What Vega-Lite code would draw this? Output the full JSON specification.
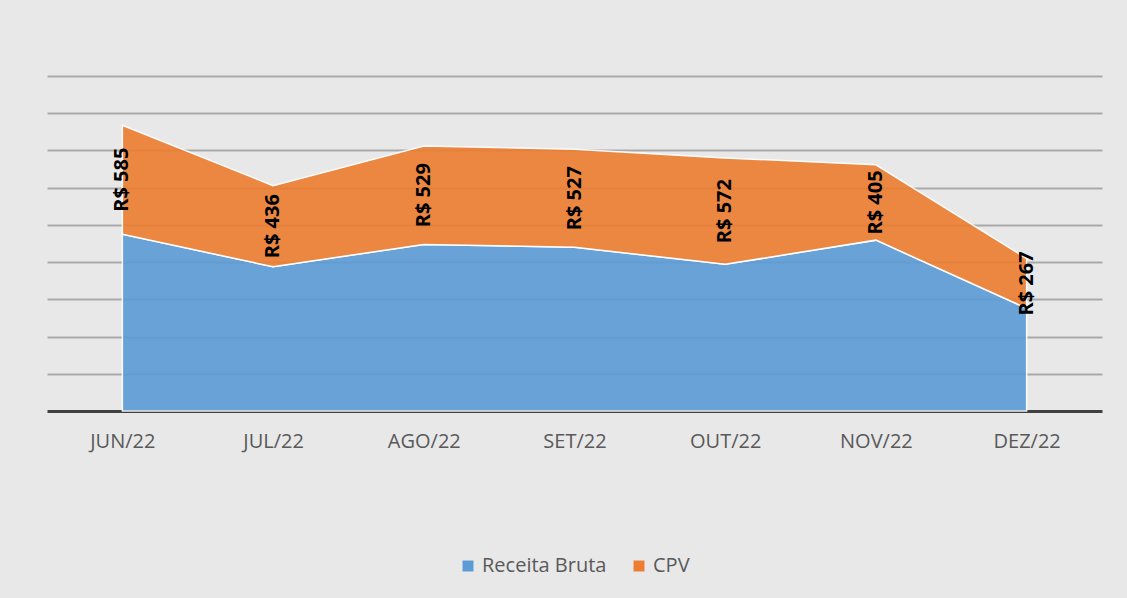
{
  "$schema": "https://vega.github.io/schema/vega-lite/v6.json",
  "autosize": "none",
  "width": 1055,
  "height": 335,
  "padding": {"left": 47, "top": 76, "right": 25, "bottom": 187},
  "background": "#e8e8e8",
  "config": {
    "view": {"stroke": null},
    "font": "Open Sans"
  },
  "data": {
    "values": [
      {"mes": "JUN/22", "Receita Bruta": 950, "CPV": 585},
      {"mes": "JUL/22", "Receita Bruta": 775, "CPV": 436},
      {"mes": "AGO/22", "Receita Bruta": 895, "CPV": 529},
      {"mes": "SET/22", "Receita Bruta": 880, "CPV": 527},
      {"mes": "OUT/22", "Receita Bruta": 788, "CPV": 572},
      {"mes": "NOV/22", "Receita Bruta": 918, "CPV": 405},
      {"mes": "DEZ/22", "Receita Bruta": 552, "CPV": 267}
    ]
  },
  "layer": [
    {
      "transform": [{"fold": ["Receita Bruta", "CPV"], "as": ["serie", "valor"]}],
      "mark": {"type": "area", "opacity": 0.9, "stroke": "#ffffff", "strokeWidth": 1.5},
      "encoding": {
        "x": {
          "field": "mes", "type": "ordinal", "sort": null,
          "scale": {"type": "point", "padding": 0.5},
          "axis": {"title": null, "labelAngle": 0, "labelFontSize": 20, "labelColor": "#595959",
                   "labelPadding": 20, "ticks": false, "domain": true, "domainColor": "#404040",
                   "domainWidth": 3, "grid": false}
        },
        "y": {
          "field": "valor", "type": "quantitative", "stack": "zero",
          "scale": {"domain": [0, 1800], "nice": false},
          "axis": {"title": null, "labels": false, "ticks": false, "domain": false,
                   "values": [200, 400, 600, 800, 1000, 1200, 1400, 1600, 1800],
                   "grid": true, "gridColor": "#a9a9a9", "gridWidth": 2}
        },
        "color": {
          "field": "serie", "type": "nominal", "sort": ["Receita Bruta", "CPV"],
          "scale": {"domain": ["Receita Bruta", "CPV"], "range": ["#5b9bd5", "#ed7d31"]},
          "legend": {"title": null, "orient": "none", "direction": "horizontal",
                     "legendX": 411, "legendY": 480, "symbolType": "square", "symbolSize": 120,
                     "labelFontSize": 20, "labelColor": "#595959", "columnPadding": 22,
                     "symbolStrokeWidth": 0, "symbolOpacity": 1}
        },
        "order": {"field": "serie", "sort": "descending"}
      }
    },
    {
      "transform": [
        {"calculate": "datum['Receita Bruta'] + datum.CPV / 2", "as": "meio"},
        {"calculate": "'R$ ' + datum.CPV", "as": "rotulo"}
      ],
      "mark": {"type": "text", "angle": 270, "fontSize": 20, "fontWeight": "bold", "color": "#000000", "align": "center", "baseline": "middle"},
      "encoding": {
        "x": {"field": "mes", "type": "ordinal", "sort": null},
        "y": {"field": "meio", "type": "quantitative"},
        "text": {"field": "rotulo"}
      }
    }
  ]
}
